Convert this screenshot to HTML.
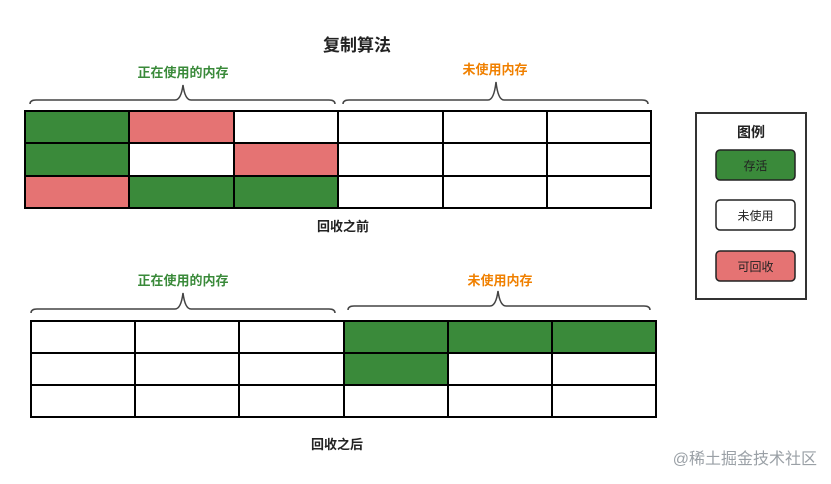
<!DOCTYPE html>
<html><head><meta charset="utf-8"><style>body{margin:0;background:#fff}svg{display:block}</style></head><body>
<svg width="831" height="484" xmlns="http://www.w3.org/2000/svg" font-family="'Liberation Sans','Noto Sans CJK SC',sans-serif">
<rect width="831" height="484" fill="#fff"/>
<text x="357" y="51" font-size="17" font-weight="bold" text-anchor="middle" fill="#222">复制算法</text>
<g font-size="13" font-weight="bold" text-anchor="middle">
<text x="183" y="77" fill="#3a8a3a">正在使用的内存</text>
<text x="495" y="74" fill="#f08000">未使用内存</text>
<text x="183" y="285" fill="#3a8a3a">正在使用的内存</text>
<text x="500" y="285" fill="#f08000">未使用内存</text>
</g>
<g fill="none" stroke="#444" stroke-width="1.5">
<path d="M30 104 Q30 100 36 100 L175 100 Q181 100 183 85 Q185 100 191 100 L329 100 Q335 100 335 104"/>
<path d="M343 104 Q343 100 349 100 L488 100 Q494 100 496 82 Q498 100 504 100 L642 100 Q648 100 648 104"/>
<path d="M31 313 Q31 309 37 309 L175 309 Q181 309 183 293 Q185 309 191 309 L329 309 Q335 309 335 313"/>
<path d="M348 310 Q348 306 354 306 L490 306 Q496 306 498 291 Q500 306 506 306 L644 306 Q650 306 650 310"/>
</g>
<g>
<rect x="25" y="111" width="104" height="32" fill="#3a8a3a"/>
<rect x="129" y="111" width="105" height="32" fill="#e57373"/>
<rect x="25" y="143" width="104" height="33" fill="#3a8a3a"/>
<rect x="234" y="143" width="104" height="33" fill="#e57373"/>
<rect x="25" y="176" width="104" height="32" fill="#e57373"/>
<rect x="129" y="176" width="209" height="32" fill="#3a8a3a"/>
</g>
<g stroke="#000" stroke-width="2" fill="none">
<rect x="25" y="111" width="626" height="97"/>
<path d="M25 143H651M25 176H651M129 111V208M234 111V208M338 111V208M443 111V208M547 111V208"/>
</g>
<text x="343" y="231" font-size="13" font-weight="bold" text-anchor="middle" fill="#222">回收之前</text>
<rect x="344" y="321" width="312" height="32" fill="#3a8a3a"/>
<rect x="344" y="353" width="104" height="32" fill="#3a8a3a"/>
<g stroke="#000" stroke-width="2" fill="none">
<rect x="31" y="321" width="625" height="96"/>
<path d="M31 353H656M31 385H656M135 321V417M239 321V417M344 321V417M448 321V417M552 321V417"/>
</g>
<text x="337" y="449" font-size="13" font-weight="bold" text-anchor="middle" fill="#222">回收之后</text>
<rect x="696" y="113" width="110" height="186" fill="#fff" stroke="#333" stroke-width="2"/>
<text x="751" y="137" font-size="14" font-weight="bold" text-anchor="middle" fill="#222">图例</text>
<rect x="716" y="150" width="79" height="30" rx="4" fill="#3a8a3a" stroke="#222" stroke-width="1.5"/>
<text x="755.5" y="170" font-size="12" text-anchor="middle" fill="#222">存活</text>
<rect x="716" y="200" width="79" height="30" rx="4" fill="#fff" stroke="#222" stroke-width="1.5"/>
<text x="755.5" y="220" font-size="12" text-anchor="middle" fill="#222">未使用</text>
<rect x="716" y="251" width="79" height="30" rx="4" fill="#e57373" stroke="#222" stroke-width="1.5"/>
<text x="755.5" y="271" font-size="12" text-anchor="middle" fill="#222">可回收</text>
<text x="817" y="464" font-size="16" text-anchor="end" fill="#9aa0a6">@稀土掘金技术社区</text>
</svg>
</body></html>
